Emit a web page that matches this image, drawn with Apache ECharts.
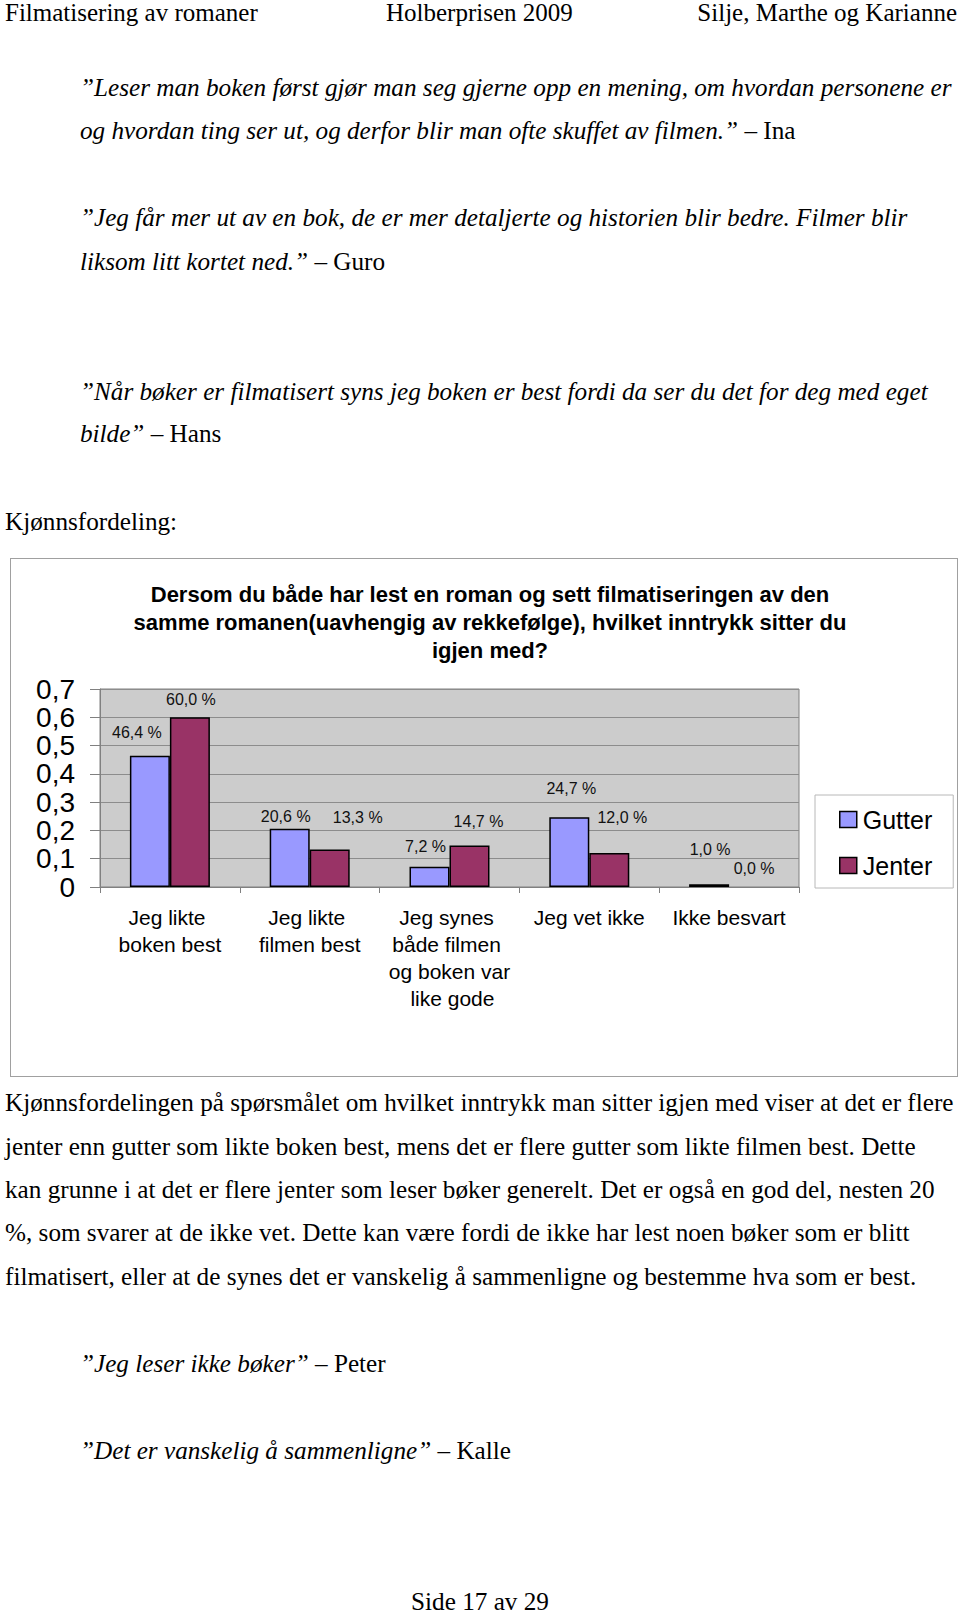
<!DOCTYPE html>
<html><head><meta charset="utf-8">
<script src="https://cdn.jsdelivr.net/npm/echarts@6/dist/echarts.min.js"></script>
<style>
html,body{margin:0;padding:0;background:#fff;}
#page{position:relative;width:960px;height:1613px;overflow:hidden;font-family:'Liberation Serif','Times New Roman',serif;font-size:25.2px;color:#000;}
.ln{position:absolute;white-space:nowrap;line-height:25px;}
.hd{font-size:25px;}
#box{position:absolute;left:10px;top:558px;width:946px;height:517px;border:1.5px solid #a0a0a0;}
#chart{position:absolute;left:0;top:0;width:960px;height:1613px;}
</style></head>
<body>
<div id="page">
<div id="box"></div>
<div id="chart"></div>
<div class="ln hd" style="left:5px;top:0px">Filmatisering av romaner</div>
<div class="ln hd" style="left:386px;top:0px">Holberprisen 2009</div>
<div class="ln hd" style="right:3px;top:0px">Silje, Marthe og Karianne</div>

<div class="ln" style="left:80px;top:74.6px"><i>”Leser man boken først gjør man seg gjerne opp en mening, om hvordan personene er</i></div>
<div class="ln" style="left:80px;top:118px"><i>og hvordan ting ser ut, og derfor blir man ofte skuffet av filmen.”</i> – Ina</div>

<div class="ln" style="left:80px;top:205.3px"><i>”Jeg får mer ut av en bok, de er mer detaljerte og historien blir bedre. Filmer blir</i></div>
<div class="ln" style="left:80px;top:248.5px"><i>liksom litt kortet ned.”</i> – Guro</div>

<div class="ln" style="left:80px;top:379px"><i>”Når bøker er filmatisert syns jeg boken er best fordi da ser du det for deg med eget</i></div>
<div class="ln" style="left:80px;top:421.4px"><i>bilde”</i> – Hans</div>

<div class="ln" style="left:5px;top:509px">Kjønnsfordeling:</div>

<div class="ln" style="left:5px;top:1090.3px">Kjønnsfordelingen på spørsmålet om hvilket inntrykk man sitter igjen med viser at det er flere</div>
<div class="ln" style="left:5px;top:1133.5px">jenter enn gutter som likte boken best, mens det er flere gutter som likte filmen best. Dette</div>
<div class="ln" style="left:5px;top:1176.7px">kan grunne i at det er flere jenter som leser bøker generelt. Det er også en god del, nesten 20</div>
<div class="ln" style="left:5px;top:1220px">%, som svarer at de ikke vet. Dette kan være fordi de ikke har lest noen bøker som er blitt</div>
<div class="ln" style="left:5px;top:1264px">filmatisert, eller at de synes det er vanskelig å sammenligne og bestemme hva som er best.</div>

<div class="ln" style="left:80px;top:1350.6px"><i>”Jeg leser ikke bøker”</i> – Peter</div>
<div class="ln" style="left:80px;top:1438px"><i>”Det er vanskelig å sammenligne”</i> – Kalle</div>

<div class="ln" style="left:0;width:960px;text-align:center;top:1592px;line-height:20px">Side 17 av 29</div>
</div>
<script>
// ---- data ----
const categories = ['Jeg likte boken best', 'Jeg likte filmen best', 'Jeg synes både filmen og boken var like gode', 'Jeg vet ikke', 'Ikke besvart'];
const seriesNames = ['Gutter', 'Jenter'];
const gutter = [0.464, 0.206, 0.072, 0.247, 0.010];
const jenter = [0.600, 0.133, 0.147, 0.120, 0.000];
const yTickValues = [0, 0.1, 0.2, 0.3, 0.4, 0.5, 0.6, 0.7];
const chartTitle = 'Dersom du både har lest en roman og sett filmatiseringen av den\nsamme romanen(uavhengig av rekkefølge), hvilket inntrykk sitter du\nigjen med?';

// ---- label placement (styling, [dx, height above bar top]) ----
const gutterLabelShift = [[-13, 23], [-4, 12], [-4, 20], [2, 29], [1, 35]];
const jenterLabelShift = [[1, 18], [28, 32], [9, 24], [13, 36], [5, 19]];

const FONT = "'Liberation Sans', Arial, sans-serif";
const pct = v => (v * 100).toFixed(1).replace('.', ',') + ' %';
const yFmt = v => (Math.abs(v) < 1e-9 ? '0' : (Math.round(v * 10) / 10).toFixed(1).replace('.', ','));

function mkData(vals, shifts) {
  return vals.map((v, i) => {
    const d = { value: v, label: { offset: [shifts[i][0], -(shifts[i][1] - 8)] } };
    if (v === 0) d.itemStyle = { borderWidth: 0 };
    return d;
  });
}

const chart = echarts.init(document.getElementById('chart'), null, { renderer: 'svg' });
chart.setOption({
  animation: false,
  backgroundColor: 'transparent',
  title: {
    text: chartTitle,
    left: 490,
    top: 580,
    padding: 0,
    textAlign: 'center',
    textStyle: { fontFamily: FONT, fontSize: 22, fontWeight: 'bold', color: '#000', lineHeight: 28 }
  },
  legend: {
    orient: 'vertical',
    left: 815,
    top: 795,
    width: 137,
    padding: [12, 21, 10, 24],
    itemGap: 21,
    itemWidth: 17,
    itemHeight: 16,
    icon: 'rect',
    backgroundColor: '#fff',
    borderColor: '#b8b8b8',
    borderWidth: 1,
    textStyle: { fontFamily: FONT, fontSize: 25, color: '#000', padding: [0, 0, 0, 1] },
    itemStyle: { borderColor: '#000', borderWidth: 1.5 },
    data: seriesNames
  },
  grid: {
    left: 100, top: 689, width: 699, height: 198,
    show: true, backgroundColor: '#cccccc', borderColor: '#808080', borderWidth: 1,
    containLabel: false
  },
  xAxis: {
    type: 'category',
    data: categories,
    axisLine: { show: true, lineStyle: { color: '#808080', width: 1 } },
    axisTick: { show: true, length: 6, alignWithLabel: false, lineStyle: { color: '#808080' } },
    axisLabel: {
      interval: 0, margin: 17, width: 125, overflow: 'break',
      fontFamily: FONT, fontSize: 21, lineHeight: 27, color: '#000', align: 'center'
    }
  },
  yAxis: {
    type: 'value',
    min: yTickValues[0],
    max: yTickValues[yTickValues.length - 1],
    interval: 0.1,
    axisLine: { show: true, lineStyle: { color: '#808080', width: 1 } },
    axisTick: { show: true, length: 10, lineStyle: { color: '#808080' } },
    splitLine: { show: true, lineStyle: { color: '#8c8c8c', width: 1 } },
    axisLabel: { margin: 25, fontFamily: FONT, fontSize: 28, lineHeight: 22, color: '#000', formatter: yFmt,
      showMinLabel: true, showMaxLabel: true, hideOverlap: false }
  },
  series: [
    {
      name: seriesNames[0], type: 'bar', barWidth: 40, barGap: '0%',
      itemStyle: { color: '#9999FF', borderColor: '#000', borderWidth: 1.5 },
      label: { show: true, position: 'top', distance: 0, formatter: p => pct(p.value),
        fontFamily: FONT, fontSize: 16, color: '#111' },
      data: mkData(gutter, gutterLabelShift)
    },
    {
      name: seriesNames[1], type: 'bar', barWidth: 40, barGap: '0%',
      itemStyle: { color: '#993366', borderColor: '#000', borderWidth: 1.5 },
      label: { show: true, position: 'top', distance: 0, formatter: p => pct(p.value),
        fontFamily: FONT, fontSize: 16, color: '#111' },
      data: mkData(jenter, jenterLabelShift)
    }
  ]
});
</script>
</body></html>
